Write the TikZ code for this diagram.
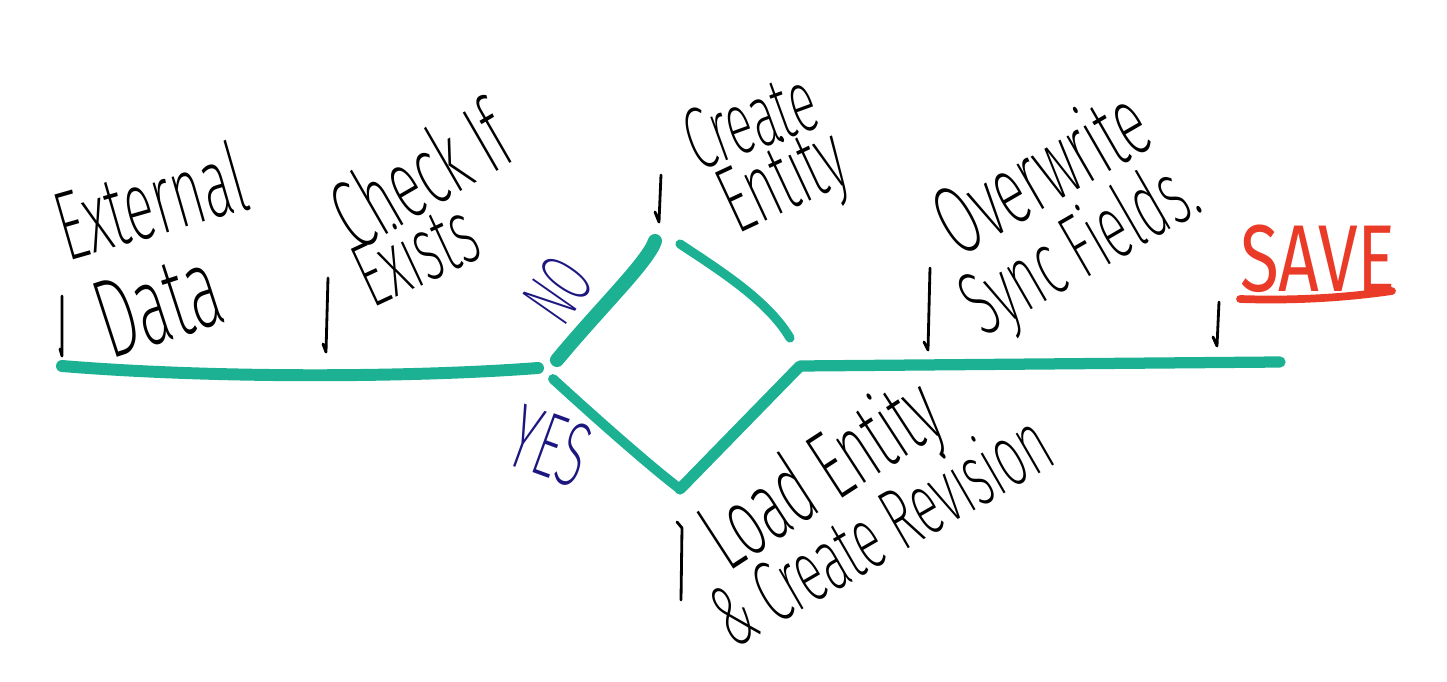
\documentclass[tikz,border=0pt]{standalone}
\usepackage{fontspec}
\setmainfont{Fira Sans}[UprightFont=* ExtraLight, FakeStretch=0.55]
\newfontfamily\markerfont{Fira Sans}[FakeStretch=0.75]
\usepackage{xcolor}
\usepackage{tikz}

\definecolor{pathgreen}{RGB}{27,177,146}
\definecolor{noteblue}{RGB}{28,22,128}
\definecolor{savered}{RGB}{234,58,40}

\begin{document}
\begin{tikzpicture}[x=0.01cm, y=-0.01cm,
  hand/.style={font=\fontsize{#1}{#1}\selectfont, inner sep=0pt},
  flow/.style={pathgreen, line cap=round, line join=round},
  tick/.style={black, line width=0.8pt, line cap=round, line join=round}]

\useasboundingbox (0,0) rectangle (1447,682);

\coordinate (start) at (62,366);
\coordinate (split) at (538,368);
\coordinate (noleft) at (557,360);
\coordinate (top) at (655,241);
\coordinate (topright) at (680,244);
\coordinate (rightgap) at (790,338);
\coordinate (yesleft) at (553,379);
\coordinate (bottom) at (680,489);
\coordinate (join) at (800,366);
\coordinate (finish) at (1280,362);

% green path
\draw[flow, line width=3.4pt] (start) .. controls (220,379) and (420,377) .. (split);
\draw[flow, line width=4pt] (noleft) .. controls (600,308) and (648,262) .. (top);
\draw[flow, line width=2.6pt] (topright) .. controls (716,268) and (768,300) .. (rightgap);
\draw[flow, line width=2.8pt] (yesleft) .. controls (600,422) and (650,466) .. (bottom);
\draw[flow, line width=3.2pt] (bottom) -- (join) -- (finish);

% ticks
\draw[tick] (62,296) -- (62,356) -- (60,349);
\draw[tick] (328,278) -- (326,352) -- (323,344);
\draw[tick] (661,175) -- (659,222) -- (655,212);
\draw[tick] (930,268) -- (928,350) -- (924,342);
\draw[tick] (1219,302) -- (1217,346) -- (1213,337);
\draw[tick] (677,522) -- (682,528) -- (681,600);

% labels
\node[hand=28, rotate=16] (external) at (150,200) {External};
\node[hand=32, rotate=18] (data) at (158,304) {Data};
\node[hand=28, rotate=30] (checkif) at (420,174) {Check If};
\node[hand=26, rotate=25] (exists) at (415,252) {Exists};
\node[hand=22, rotate=55, noteblue] (no) at (558,290) {NO};
\node[hand=26, rotate=-20, noteblue] (yes) at (550,446) {YES};
\node[hand=25, rotate=20] (create) at (750,120) {Create};
\node[hand=27, rotate=25] (entity) at (785,184) {Entity};
\node[hand=28, rotate=30] (overwrite) at (1040,170) {Overwrite};
\node[hand=26, rotate=30] (sync) at (1082,252) {Sync Fields.};
\node[hand=27, savered, font=\markerfont\fontsize{27}{27}\selectfont] (save) at (1318,259) {SAVE};
\draw[savered, line width=2.2pt, line cap=round] (1240,299) .. controls (1300,301) and (1350,297) .. (1392,291);
\node[hand=28, rotate=33] (load) at (824,478) {Load Entity};
\node[hand=25, rotate=30] (revision) at (880,528) {\& Create Revision};

\end{tikzpicture}
\end{document}
